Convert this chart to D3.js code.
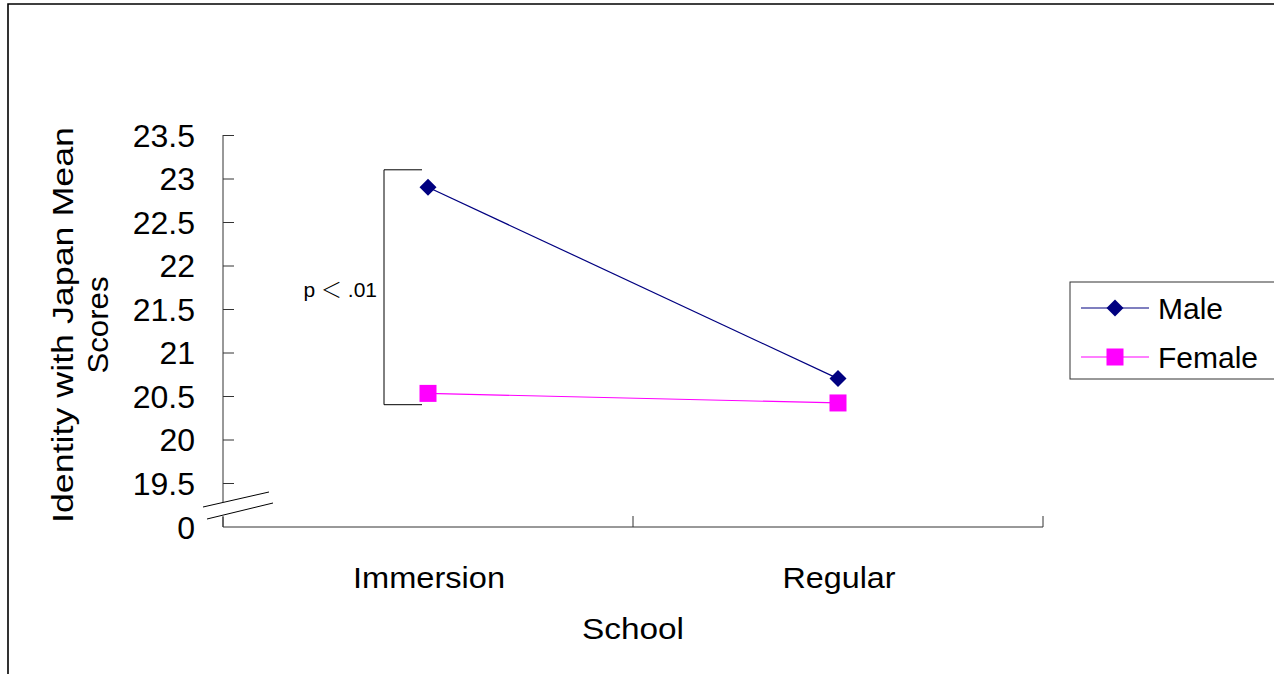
<!DOCTYPE html>
<html>
<head>
<meta charset="utf-8">
<script src="https://cdn.jsdelivr.net/npm/d3@7"></script>
<style>
  html, body { margin: 0; padding: 0; background: #fff; }
  svg { display: block; }
  text { font-family: "Liberation Sans", Arial, sans-serif; fill: #000; }
</style>
</head>
<body>
<svg id="chart" width="1274" height="674"></svg>
<script>
// ---- data ----
const categories = ["Immersion", "Regular"];
const seriesNames = ["Male", "Female"];
const maleValues = [22.9, 20.7];
const femaleValues = [20.53, 20.42];
const yTickValues = [0, 19.5, 20, 20.5, 21, 21.5, 22, 22.5, 23, 23.5];
const yTickLabels = ["0", "19.5", "20", "20.5", "21", "21.5", "22", "22.5", "23", "23.5"];
const bracketRange = [20.4, 23.1];
const bracketLabel = ["p", "＜", ".01"];
const xTitle = "School";
const yTitleLines = ["Identity with Japan Mean", "Scores"];

const svg = d3.select("#chart");

// outer frame (top & left visible)
svg.append("path").attr("d", "M8,674 L8,4 L1274,4")
  .attr("fill", "none").attr("stroke", "#000").attr("stroke-width", 1.6);

// scales
const x = d3.scaleBand().domain(categories).range([223, 1043]);
const y = d3.scaleLinear().domain([0, 19.5, 23.5]).range([527, 483, 135]);

const axisColor = "#333";

// y axis line with break
const g = svg.append("g");
g.append("line").attr("x1", 223).attr("x2", 223).attr("y1", y(23.5)).attr("y2", 502)
  .attr("stroke", axisColor);
g.append("line").attr("x1", 223).attr("x2", 223).attr("y1", 517).attr("y2", y(0))
  .attr("stroke", axisColor);
// y ticks (inside)
const yAxis = d3.axisRight(y).tickValues(yTickValues.filter(v => v !== 0)).tickSize(11).tickFormat("");
const ya = g.append("g").attr("transform", "translate(223,0)").call(yAxis);
ya.select(".domain").remove();
ya.selectAll(".tick line").attr("stroke", axisColor);
// y tick labels
g.selectAll("text.ylab").data(yTickValues).join("text")
  .attr("class", "ylab")
  .attr("x", 195).attr("y", d => y(d)).attr("dy", "0.37em")
  .attr("text-anchor", "end").attr("font-size", 32)
  .text((d, i) => yTickLabels[i]);

// break marks
g.append("line").attr("x1", 203).attr("y1", 507).attr("x2", 269).attr("y2", 492).attr("stroke", "#000");
g.append("line").attr("x1", 207).attr("y1", 519).attr("x2", 273).attr("y2", 503).attr("stroke", "#000");

// x axis
const xBounds = [223, ...categories.map(c => x(c) + x.bandwidth())];
g.append("line").attr("x1", 223).attr("x2", 1043).attr("y1", y(0)).attr("y2", y(0)).attr("stroke", axisColor);
g.selectAll("line.xtick").data(xBounds).join("line").attr("class", "xtick")
  .attr("x1", d => d).attr("x2", d => d).attr("y1", y(0)).attr("y2", y(0) - 11)
  .attr("stroke", axisColor);
g.selectAll("text.xlab").data(categories).join("text").attr("class", "xlab")
  .attr("x", d => x(d) + x.bandwidth() / 2 + 1).attr("y", 588)
  .attr("text-anchor", "middle").attr("font-size", 30)
  .attr("textLength", d => d === "Immersion" ? 152 : 113).attr("lengthAdjust", "spacingAndGlyphs")
  .text(d => d);

// axis titles
svg.append("text").attr("x", 633).attr("y", 639).attr("text-anchor", "middle")
  .attr("font-size", 30).attr("textLength", 102).attr("lengthAdjust", "spacingAndGlyphs").text(xTitle);
svg.append("g").attr("transform", "translate(73,325) rotate(-90)")
  .selectAll("text").data(yTitleLines).join("text")
  .attr("x", 0).attr("y", (d, i) => i * 35).attr("text-anchor", "middle")
  .attr("font-size", 30)
  .attr("textLength", (d, i) => i === 0 ? 396 : 97).attr("lengthAdjust", "spacingAndGlyphs")
  .text(d => d);

// bracket
const bx = 384, bx2 = 422;
svg.append("path")
  .attr("d", `M${bx2},${y(bracketRange[1])} L${bx},${y(bracketRange[1])} L${bx},${y(bracketRange[0])} L${bx2},${y(bracketRange[0])}`)
  .attr("fill", "none").attr("stroke", "#000");
const pt = svg.append("text").attr("x", 377).attr("y", 297).attr("text-anchor", "end")
  .attr("font-size", 21);
pt.append("tspan").text(bracketLabel[0] + " ");
pt.append("tspan").attr("font-family", "'Noto Sans CJK JP', sans-serif").attr("font-weight", 300).text(bracketLabel[1]);
pt.append("tspan").text(" " + bracketLabel[2]);

// series
const cx = c => x(c) + x.bandwidth() / 2;
const line = d3.line().x(d => cx(d.c)).y(d => y(d.v));
const male = categories.map((c, i) => ({ c, v: maleValues[i] }));
const female = categories.map((c, i) => ({ c, v: femaleValues[i] }));

svg.append("path").datum(male).attr("d", line).attr("fill", "none").attr("stroke", "#000080").attr("stroke-width", 1.2);
svg.append("path").datum(female).attr("d", line).attr("fill", "none").attr("stroke", "#FF00FF").attr("stroke-width", 1.2);

const diamond = (s) => `M0,${-s} L${s},0 L0,${s} L${-s},0 Z`;
svg.selectAll("path.mm").data(male).join("path").attr("class", "mm")
  .attr("transform", d => `translate(${cx(d.c)},${y(d.v)})`)
  .attr("d", diamond(8.5)).attr("fill", "#000080");
svg.selectAll("rect.fm").data(female).join("rect").attr("class", "fm")
  .attr("x", d => cx(d.c) - 8.5).attr("y", d => y(d.v) - 8.5)
  .attr("width", 17).attr("height", 17).attr("fill", "#FF00FF");

// legend
const lg = svg.append("g");
lg.append("rect").attr("x", 1070).attr("y", 282).attr("width", 240).attr("height", 97)
  .attr("fill", "#fff").attr("stroke", "#333");
const legendY = [308, 357];
const legendColors = ["#000080", "#FF00FF"];
seriesNames.forEach((name, i) => {
  lg.append("line").attr("x1", 1081).attr("x2", 1149).attr("y1", legendY[i]).attr("y2", legendY[i])
    .attr("stroke", legendColors[i]).attr("stroke-width", 1.2);
  if (i === 0) {
    lg.append("path").attr("transform", `translate(1115,${legendY[i]})`).attr("d", diamond(8.5)).attr("fill", legendColors[i]);
  } else {
    lg.append("rect").attr("x", 1115 - 8.5).attr("y", legendY[i] - 8.5).attr("width", 17).attr("height", 17).attr("fill", legendColors[i]);
  }
  lg.append("text").attr("x", 1158).attr("y", legendY[i] + 10.5).attr("font-size", 30).text(name);
});
</script>
</body>
</html>
